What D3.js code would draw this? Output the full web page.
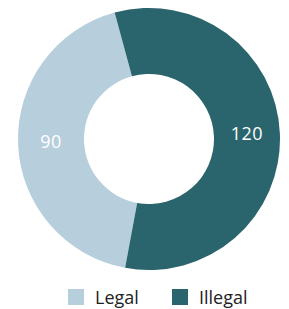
<!DOCTYPE html>
<html>
<head>
<meta charset="utf-8">
<script src="https://cdn.jsdelivr.net/npm/d3@7"></script>
<style>
  body { margin: 0; background: #fff; }
  svg { display: block; font-family: "Open Sans", "Noto Sans", sans-serif; }
</style>
</head>
<body>
<svg id="chart"></svg>
<script>
// Chart data
const categories = ["Legal", "Illegal"];
const values = [90, 120];
const colors = ["#b7cedd", "#2a646d"];

const width = 289;
const height = 309;
const cx = 149, cy = 139;
const outerR = 131, innerR = 65;

const svg = d3.select("#chart")
  .attr("width", width)
  .attr("height", height);

const data = categories.map((c, i) => ({ category: c, value: values[i] }));

const color = d3.scaleOrdinal()
  .domain(categories)
  .range(colors);

// Pie layout, rotated so the slices meet where the original does
const pie = d3.pie()
  .sort(null)
  .value(d => d.value)
  .startAngle(-169.5 * Math.PI / 180)
  .endAngle((360 - 169.5) * Math.PI / 180);

const arc = d3.arc()
  .innerRadius(innerR)
  .outerRadius(outerR);

const g = svg.append("g")
  .attr("transform", `translate(${cx},${cy})`);

const slices = g.selectAll("g.slice")
  .data(pie(data))
  .enter()
  .append("g")
  .attr("class", "slice");

slices.append("path")
  .attr("d", arc)
  .attr("fill", d => color(d.data.category));

// Value labels at the centre of each slice
slices.append("text")
  .attr("transform", d => `translate(${arc.centroid(d)})`)
  .attr("text-anchor", "middle")
  .attr("dy", "0.3em")
  .attr("fill", "#fff")
  .attr("font-size", 18)
  .attr("letter-spacing", 0.5)
  .text(d => d.data.value);

// Legend
const legend = svg.append("g")
  .attr("transform", "translate(68,289)");

const legendX = d3.scaleOrdinal()
  .domain(categories)
  .range([0, 104]);

const items = legend.selectAll("g")
  .data(categories)
  .enter()
  .append("g")
  .attr("transform", d => `translate(${legendX(d)},0)`);

items.append("rect")
  .attr("width", 16)
  .attr("height", 16)
  .attr("fill", d => color(d));

items.append("text")
  .attr("x", 27)
  .attr("y", 15)
  .attr("font-size", 18)
  .attr("fill", "#222")
  .text(d => d);
</script>
</body>
</html>
